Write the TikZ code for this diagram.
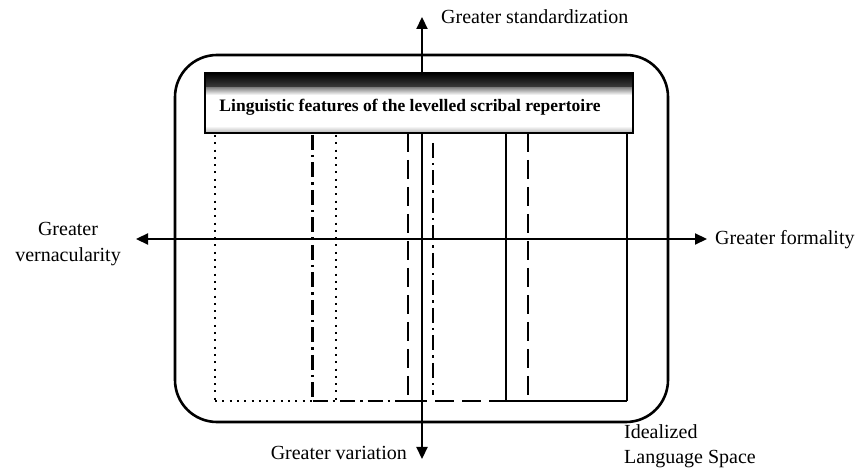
\documentclass[tikz,border=0pt]{standalone}
\usepackage{fontspec}
\setmainfont{Liberation Serif}
\usetikzlibrary{arrows.meta}
\begin{document}
\begin{tikzpicture}[x=1pt,y=-1pt,
  lab/.style={font=\fontsize{20}{25.5}\selectfont, inner sep=0pt},
  axisarrow/.style={line width=2.2pt, -{Triangle[length=12pt,width=11pt]}},
  dotline/.style={line width=2pt, dash pattern=on 2pt off 5.3pt},
  dashdotline/.style={line width=2.2pt, dash pattern=on 15pt off 5pt on 2.5pt off 5pt},
  dashline/.style={line width=2.2pt, dash pattern=on 19pt off 8pt},
  solidline/.style={line width=2.2pt}]
\useasboundingbox (0,0) rectangle (863,470);

% outer idealized language space
\node[draw, line width=2.6pt, rounded corners=42pt, minimum width=493pt, minimum height=367pt, inner sep=0pt] (space) at (421.5,238.5) {};

% axes
\coordinate (o) at (422,239);
\coordinate (ytop) at (422,17);
\coordinate (ybot) at (422,459);
\coordinate (xl) at (136,239);
\coordinate (xr) at (707,239);
\draw[axisarrow] (o) -- (ytop);
\draw[axisarrow] (o) -- (ybot);
\draw[axisarrow] (o) -- (xl);
\draw[axisarrow] (o) -- (xr);

% title bar
\shade[top color=black, bottom color=black!75] (205,73) rectangle (633,88);
\shade[top color=black!45, bottom color=white] (205,88) rectangle (633,95);
\fill[white] (205,95) rectangle (633,126);
\shade[top color=white, bottom color=black!30] (205,126) rectangle (633,133);
\node[draw, line width=2.6pt, minimum width=428pt, minimum height=60pt, inner sep=0pt] (title) at (419,103) {};
\node[inner sep=0pt, font=\bfseries\fontsize{17.5}{20}\selectfont] (titletext) at (410,107) {Linguistic features of the levelled scribal repertoire};

% vertical lines
\coordinate (a1) at (215,135); \coordinate (a2) at (215,401);
\coordinate (b1) at (312.5,135); \coordinate (b2) at (312.5,401);
\coordinate (c1) at (336,135); \coordinate (c2) at (336,401);
\coordinate (d1) at (408,133); \coordinate (d2) at (408,401);
\coordinate (e1) at (433,143); \coordinate (e2) at (433,395);
\coordinate (f1) at (506,133); \coordinate (f2) at (506,401);
\coordinate (g1) at (528,133); \coordinate (g2) at (528,401);
\coordinate (h1) at (627,133); \coordinate (h2) at (627,401);

\draw[dotline] (a1) -- (a2);
\draw[dashdotline] (b1) -- (b2);
\draw[dotline] (c1) -- (c2);
\draw[dashline] (d1) -- (d2);
\draw[dashdotline] (e1) -- (e2);
\draw[solidline] (f1) -- (f2);
\draw[dashline] (g1) -- (g2);
\draw[solidline] (h1) -- (h2);

% base line
\draw[dotline] (a2) -- (b2);
\draw[dashdotline] (b2) -- (d2);
\draw[dashline] (d2) -- (f2);
\draw[solidline] (f2) -- (h2);

% labels
\node[lab, anchor=west] (stand) at (441,17) {Greater standardization};
\node[lab, anchor=west] (form) at (715,240) {Greater formality};
\node[lab, align=center] (vern) at (68,244) {Greater\\vernacularity};
\node[lab, anchor=east] (vari) at (407,453) {Greater variation};
\node[lab, align=left, anchor=north west] (ideal) at (624,424) {Idealized\\Language Space};
\end{tikzpicture}
\end{document}
